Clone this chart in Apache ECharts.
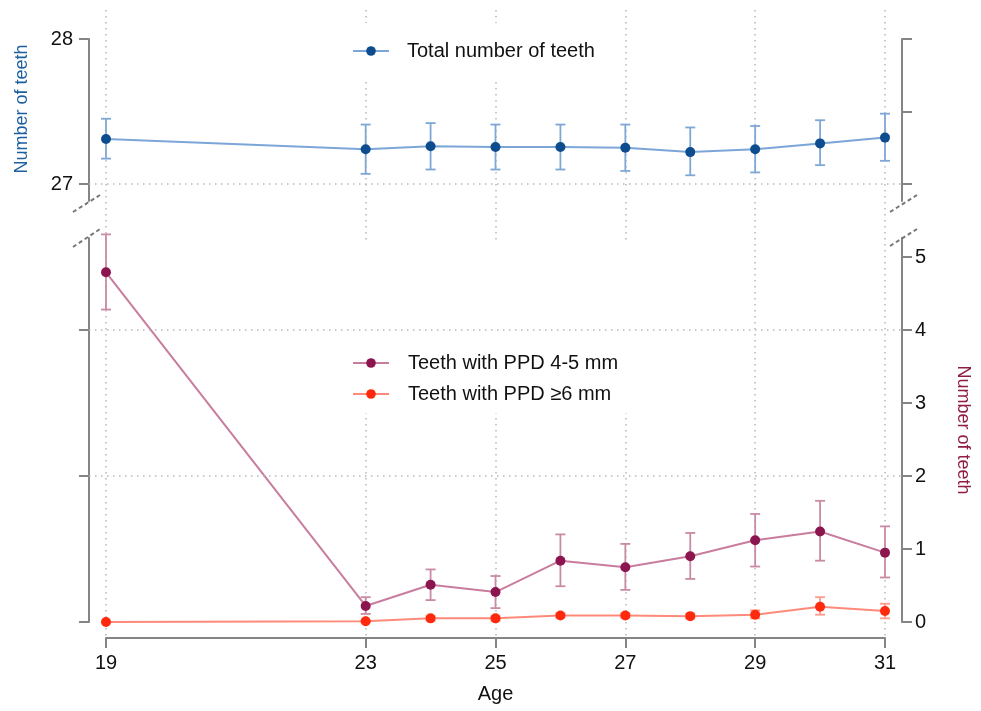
<!DOCTYPE html>
<html>
<head>
<meta charset="utf-8">
<title>Number of teeth by age</title>
<script src="https://cdn.jsdelivr.net/npm/echarts@6/dist/echarts.min.js"></script>
<style>
  html, body { margin: 0; padding: 0; background: #fff; }
  #chart { width: 981px; height: 711px; }
</style>
</head>
<body>
<div id="chart"></div>
<script>
// Data
var ages = [19, 23, 24, 25, 26, 27, 28, 29, 30, 31];
var ageTicks = [19, 23, 25, 27, 29, 31];

var totalTeeth = [27.31, 27.24, 27.26, 27.255, 27.255, 27.25, 27.22, 27.24, 27.28, 27.32];
var totalLow   = [27.175, 27.07, 27.10, 27.10, 27.10, 27.09, 27.06, 27.08, 27.13, 27.16];
var totalHigh  = [27.45, 27.41, 27.42, 27.41, 27.41, 27.41, 27.39, 27.40, 27.44, 27.485];

var ppd45     = [4.79, 0.22, 0.51, 0.41, 0.84, 0.75, 0.90, 1.12, 1.24, 0.95];
var ppd45Low  = [4.28, 0.11, 0.30, 0.19, 0.49, 0.44, 0.59, 0.76, 0.84, 0.61];
var ppd45High = [5.31, 0.34, 0.72, 0.63, 1.20, 1.07, 1.22, 1.48, 1.66, 1.31];

var ppd6     = [0.00, 0.01, 0.05, 0.05, 0.09, 0.09, 0.08, 0.10, 0.21, 0.15];
var ppd6Low  = [0.00, 0.00, 0.02, 0.02, 0.06, 0.06, 0.05, 0.05, 0.10, 0.05];
var ppd6High = [0.00, 0.02, 0.08, 0.08, 0.12, 0.12, 0.11, 0.16, 0.34, 0.25];

var topTicks = [27, 28];
var topRightTicks = [27, 27.5, 28];
var bottomLeftTicks = [0, 2, 4];
var bottomRightTicks = [0, 1, 2, 3, 4, 5];

var axisGray = '#858585';
var gridGray = '#b8b8b8';
var font = '"Liberation Sans", Arial, Helvetica, sans-serif';

function pairs(ys) {
    return ages.map(function (a, i) { return [a, ys[i]]; });
}
function bars(lo, hi) {
    return ages.map(function (a, i) { return [a, lo[i], hi[i]]; });
}

// error bar with caps
function renderErrorBar(params, api) {
    var x = api.value(0);
    var lo = api.coord([x, api.value(1)]);
    var hi = api.coord([x, api.value(2)]);
    if (Math.abs(lo[1] - hi[1]) < 0.5) return null;
    var half = 5;
    var style = { stroke: api.visual('color'), lineWidth: 1.8 };
    return {
        type: 'group',
        children: [
            { type: 'line', shape: { x1: lo[0], y1: lo[1], x2: hi[0], y2: hi[1] }, style: style },
            { type: 'line', shape: { x1: hi[0] - half, y1: hi[1], x2: hi[0] + half, y2: hi[1] }, style: style },
            { type: 'line', shape: { x1: lo[0] - half, y1: lo[1], x2: lo[0] + half, y2: lo[1] }, style: style }
        ]
    };
}

var dotted = { color: gridGray, type: [1.5, 4.5], width: 1.5 };
var axisLine = { show: true, onZero: false, lineStyle: { color: axisGray, width: 2 } };

function tick(values) {
    return { show: true, length: 10, customValues: values, lineStyle: { color: axisGray, width: 2 } };
}
function gridMarks(values) {
    return {
        silent: true,
        symbol: ['none', 'none'],
        label: { show: false },
        lineStyle: dotted,
        data: values.map(function (v) { return { yAxis: v }; })
    };
}
function breakMark(x1, y1, x2, y2) {
    return {
        type: 'line', z: 100,
        shape: { x1: x1, y1: y1, x2: x2, y2: y2 },
        style: { stroke: '#777', lineWidth: 2, lineDash: [4, 3] }
    };
}

var legendText = { fontSize: 20, color: '#111', fontFamily: font };

var chart = echarts.init(document.getElementById('chart'));

var option = {
    animation: false,
    backgroundColor: '#fff',
    textStyle: { fontFamily: font },
    grid: [
        { left: 89, right: 79, top: 39, height: 162 },
        { left: 89, right: 79, top: 238, bottom: 89 },
        { left: 106, right: 96, top: 10, bottom: 73 }
    ],
    xAxis: [
        { type: 'value', gridIndex: 0, min: 18.7381, max: 31.2619, show: false },
        { type: 'value', gridIndex: 1, min: 18.7381, max: 31.2619, show: false },
        {
            type: 'value', gridIndex: 2, min: 19, max: 31, position: 'bottom',
            name: 'Age', nameLocation: 'middle', nameGap: 46,
            nameTextStyle: { fontSize: 20, color: '#111' },
            axisLine: axisLine,
            axisTick: tick(ageTicks),
            axisLabel: { customValues: ageTicks, fontSize: 20, color: '#111', margin: 15 },
            splitLine: { show: true, lineStyle: dotted }
        }
    ],
    yAxis: [
        {
            type: 'value', gridIndex: 0, position: 'left', min: 26.8828, max: 28,
            name: 'Number of teeth', nameLocation: 'middle', nameGap: 58,
            nameTextStyle: { fontSize: 18, color: '#1d5f9f', padding: [0, 0, 0, 22] },
            axisLine: axisLine,
            axisTick: tick(topTicks),
            axisLabel: { customValues: topTicks, fontSize: 20, color: '#111', margin: 16 },
            splitLine: { show: false }
        },
        {
            type: 'value', gridIndex: 0, position: 'right', min: 26.8828, max: 28,
            axisLine: axisLine,
            axisTick: tick(topRightTicks),
            axisLabel: { show: false },
            splitLine: { show: false }
        },
        {
            type: 'value', gridIndex: 1, position: 'left', min: 0, max: 5.2603,
            axisLine: axisLine,
            axisTick: tick(bottomLeftTicks),
            axisLabel: { show: false },
            splitLine: { show: false }
        },
        {
            type: 'value', gridIndex: 1, position: 'right', min: 0, max: 5.2603,
            name: 'Number of teeth', nameLocation: 'middle', nameGap: 52, nameRotate: -90,
            nameTextStyle: { fontSize: 18, color: '#8f1d45' },
            axisLine: axisLine,
            axisTick: tick(bottomRightTicks),
            axisLabel: { customValues: bottomRightTicks, fontSize: 20, color: '#111', margin: 13 },
            splitLine: { show: false }
        },
        { type: 'value', gridIndex: 2, min: 0, max: 1, show: false }
    ],
    legend: [
        {
            data: ['Total number of teeth'],
            orient: 'vertical', left: 340, top: 23,
            backgroundColor: '#fff',
            padding: [18, 30, 20, 12],
            itemWidth: 36, itemHeight: 12,
            formatter: '{t|{name}}',
            textStyle: { rich: { t: Object.assign({ padding: [0, 0, 0, 13], lineHeight: 22 }, legendText) } }
        },
        {
            data: ['Teeth with PPD 4-5 mm', 'Teeth with PPD \u22656 mm'],
            orient: 'vertical', left: 330, top: 240,
            backgroundColor: '#fff',
            padding: [113, 29, 9, 22],
            itemGap: 11,
            itemWidth: 36, itemHeight: 12,
            formatter: '{t|{name}}',
            textStyle: { rich: { t: Object.assign({ padding: [0, 0, 0, 14], lineHeight: 22 }, legendText) } }
        }
    ],
    graphic: [
        breakMark(73, 212, 100, 195),
        breakMark(73, 247, 100, 229),
        breakMark(890, 212, 917, 195),
        breakMark(890, 246, 917, 229)
    ],
    series: [
        {
            type: 'custom', xAxisIndex: 0, yAxisIndex: 0, z: 2,
            itemStyle: { color: '#7ea7d6' },
            encode: { x: 0, y: [1, 2] },
            renderItem: renderErrorBar,
            data: bars(totalLow, totalHigh)
        },
        {
            name: 'Total number of teeth', type: 'line', xAxisIndex: 0, yAxisIndex: 0, z: 3,
            symbol: 'circle', symbolSize: 10,
            lineStyle: { color: '#7ca6d8', width: 2 },
            itemStyle: { color: '#0d4d8f' },
            markLine: gridMarks([27]),
            data: pairs(totalTeeth)
        },
        {
            type: 'custom', xAxisIndex: 1, yAxisIndex: 3, z: 2, clip: false,
            itemStyle: { color: '#c98aa6' },
            encode: { x: 0, y: [1, 2] },
            renderItem: renderErrorBar,
            data: bars(ppd45Low, ppd45High)
        },
        {
            name: 'Teeth with PPD 4-5 mm', type: 'line', xAxisIndex: 1, yAxisIndex: 3, z: 3,
            symbol: 'circle', symbolSize: 10,
            lineStyle: { color: '#c97d9e', width: 2 },
            itemStyle: { color: '#8c1550' },
            markLine: gridMarks([2, 4]),
            data: pairs(ppd45)
        },
        {
            type: 'custom', xAxisIndex: 1, yAxisIndex: 3, z: 2, clip: false,
            itemStyle: { color: '#ff9a8c' },
            encode: { x: 0, y: [1, 2] },
            renderItem: renderErrorBar,
            data: bars(ppd6Low, ppd6High)
        },
        {
            name: 'Teeth with PPD \u22656 mm', type: 'line', xAxisIndex: 1, yAxisIndex: 3, z: 3,
            symbol: 'circle', symbolSize: 10,
            lineStyle: { color: '#ff8a7a', width: 2 },
            itemStyle: { color: '#ff2a0d' },
            data: pairs(ppd6)
        }
    ]
};

chart.setOption(option);
</script>
</body>
</html>
